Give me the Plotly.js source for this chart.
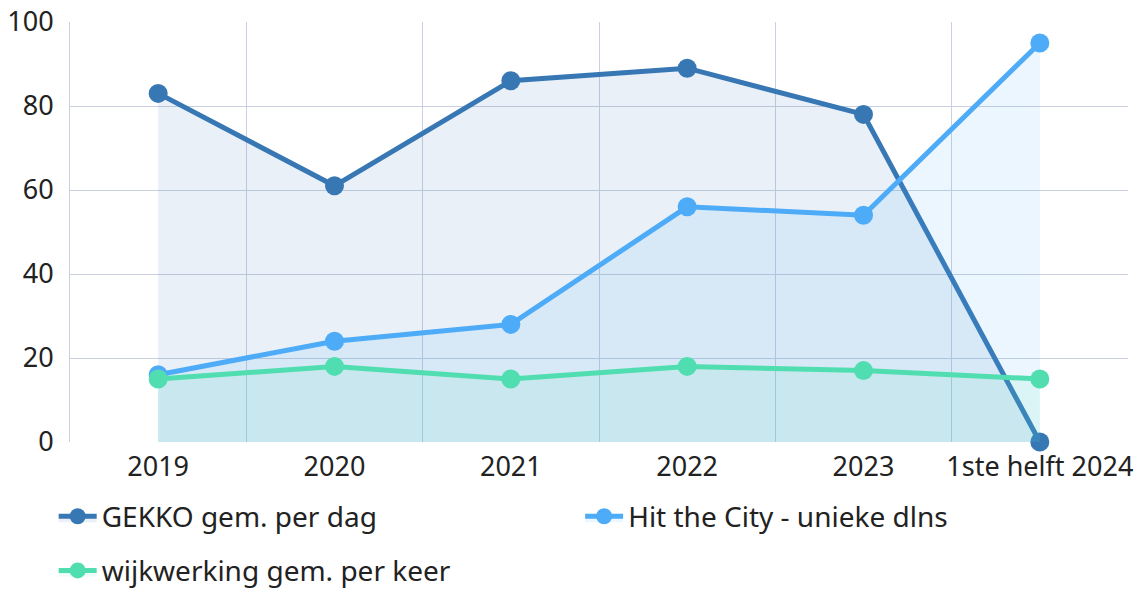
<!DOCTYPE html>
<html>
<head>
<meta charset="utf-8">
<script src="https://cdn.plot.ly/plotly-3.0.1.min.js"></script>
<style>
  html, body { margin: 0; padding: 0; background: #fff; }
  #plot { width: 1142px; height: 589px; }
</style>
</head>
<body>
<div id="plot"></div>
<script>
// categories and series
let years = ['2019', '2020', '2021', '2022', '2023', '1ste helft 2024'];
let gekko = [83, 61, 86, 89, 78, 0];
let hitTheCity = [16, 24, 28, 56, 54, 95];
let wijkwerking = [15, 18, 15, 18, 17, 15];

function series(name, y, color, fill, legend) {
  return {
    x: years,
    y: y,
    name: name,
    legend: legend,
    type: 'scatter',
    mode: 'lines+markers',
    fill: 'tozeroy',
    fillcolor: fill,
    line: {color: color, width: 5},
    marker: {color: color, size: 19},
    cliponaxis: false
  };
}

let data = [
  series('GEKKO gem. per dag', gekko, 'rgb(55,119,180)', 'rgba(55,119,180,0.11)', 'legend'),
  series('Hit the City - unieke dlns', hitTheCity, 'rgb(77,171,247)', 'rgba(77,171,247,0.11)', 'legend2'),
  series('wijkwerking gem. per keer', wijkwerking, 'rgb(80,222,176)', 'rgba(80,222,176,0.10)', 'legend3')
];

let legendFont = {size: 28, color: '#222'};

function legendAt(x, y) {
  return {
    orientation: 'h',
    xref: 'container',
    yref: 'container',
    x: x,
    xanchor: 'left',
    y: y,
    yanchor: 'middle',
    font: legendFont,
    itemwidth: 38
  };
}

let layout = {
  width: 1142,
  height: 589,
  margin: {l: 70, r: 14, t: 22, b: 147},
  paper_bgcolor: '#fff',
  plot_bgcolor: '#fff',
  font: {family: 'Noto Sans, sans-serif', size: 27, color: '#222'},
  showlegend: true,
  xaxis: {
    type: 'category',
    tickson: 'boundaries',
    showgrid: true,
    gridcolor: '#c9d1e0',
    gridwidth: 1,
    showline: false,
    zeroline: false,
    ticks: '',
    tickangle: 0,
    range: [-0.5, 5.5],
    ticklabelstandoff: 6,
    tickfont: {size: 27}
  },
  yaxis: {
    range: [0, 100],
    dtick: 20,
    showgrid: true,
    gridcolor: '#c9d1e0',
    zeroline: false,
    showline: true,
    linecolor: '#c9d1e0',
    ticks: '',
    ticklabelstandoff: 10,
    tickfont: {size: 27}
  },
  legend: legendAt(0.047, 0.123),
  legend2: legendAt(0.508, 0.123),
  legend3: legendAt(0.047, 0.031)
};

Plotly.newPlot('plot', data, layout, {displayModeBar: false});
</script>
</body>
</html>
